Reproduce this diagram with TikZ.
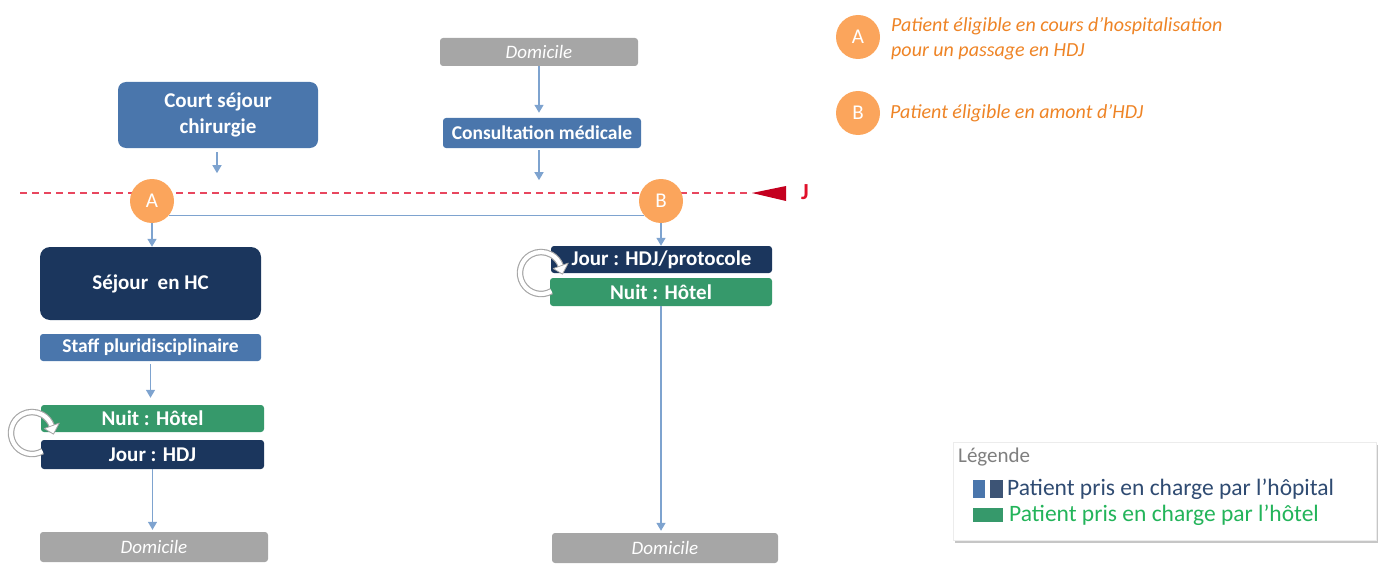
\documentclass[tikz,border=0pt]{standalone}
\usepackage{fontspec}
\setmainfont{Carlito}
\usetikzlibrary{arrows.meta,shadows,calc}

\definecolor{hospblue}{HTML}{4A76AC}
\definecolor{hospnavy}{HTML}{1B365D}
\definecolor{hotelgreen}{HTML}{36996B}
\definecolor{homegray}{HTML}{A6A6A6}
\definecolor{flowblue}{HTML}{7EA3CF}
\definecolor{markorange}{HTML}{FBA55C}
\definecolor{noteorange}{HTML}{EE8426}
\definecolor{dayred}{HTML}{E8465E}
\definecolor{tipred}{HTML}{C4001F}
\definecolor{jred}{HTML}{E0102A}
\definecolor{legnavy}{HTML}{2F4B72}
\definecolor{leggreen}{HTML}{23B45A}
\definecolor{leggray}{HTML}{7F7F7F}

\newcommand{\fsz}[1]{\fontsize{#1}{#1}\selectfont}

\begin{document}
\begin{tikzpicture}[x=1pt,y=-1pt,
  box/.style={rectangle, text=white, inner sep=0pt, align=center,
              font=\bfseries\fsz{21}},
  hosp/.style={box, fill=hospblue},
  navy/.style={box, fill=hospnavy},
  hotel/.style={box, fill=hotelgreen},
  home/.style={box, fill=homegray, font=\itshape\fsz{19}, rounded corners=3pt},
  marker/.style={circle, fill=markorange, text=white, minimum size=44pt,
                 inner sep=0pt, font=\fsz{21}},
  flow/.style={draw=flowblue, line width=1.4pt,
               -{Triangle[width=9pt,length=8pt]}},
  link/.style={draw=flowblue, line width=1.4pt},
  note/.style={anchor=west, text=noteorange, font=\itshape\fsz{20},
               align=left, inner sep=0pt},
  loopicon/.pic={
    \begin{scope}[yscale=-1]
      \draw[gray!70, line width=6.5pt] (-60:21) arc(-60:-340:21);
      \draw[white, line width=4.2pt] (-60:21) arc(-60:-340:21);
      \filldraw[fill=white, draw=gray!70, line width=0.8pt, line join=round]
        (20:13) -- (20:29) -- (-3:21.5) -- cycle;
    \end{scope}
  }
]
\useasboundingbox (0,0) rectangle (1380,567);

% ---- day separator (J)
\draw[dayred, line width=1.4pt, dash pattern=on 7pt off 5pt] (20,193) -- (752,193);
\fill[tipred] (752,193) -- (786,186) -- (786,201) -- cycle;
\node[text=jred, font=\bfseries\fsz{23}] (jday) at (805,192) {J};

% ---- left branch
\node[hosp, rounded corners=8pt, minimum width=200pt, minimum height=66pt]
  (court) at (218,115) {Court séjour\\[5pt]chirurgie};
\node[marker] (A) at (152,201) {A};
\node[navy, rounded corners=10pt, minimum width=221pt, minimum height=73pt]
  (hc) at (150.5,283.5) {Séjour\ \ en HC};
\node[hosp, rounded corners=3pt, minimum width=221pt, minimum height=27pt,
      font=\bfseries\fsz{19.5}] (staff) at (150.5,347.5) {Staff pluridisciplinaire};
\node[hotel, rounded corners=3pt, minimum width=223pt, minimum height=27pt]
  (nuitL) at (152.5,418.5) {Nuit : Hôtel};
\node[navy, rounded corners=3pt, minimum width=223pt, minimum height=29pt]
  (jourL) at (152.5,454.5) {Jour : HDJ};
\node[home, minimum width=228pt, minimum height=30pt] (domL) at (154,547) {Domicile};

% ---- right branch
\node[home, minimum width=198pt, minimum height=28pt] (domT) at (539,52) {Domicile};
\node[hosp, rounded corners=3pt, minimum width=198pt, minimum height=30pt,
      font=\bfseries\fsz{19.5}] (consult) at (542,133) {Consultation médicale};
\node[marker] (B) at (661,201) {B};
\node[navy, rounded corners=3pt, minimum width=221pt, minimum height=27pt]
  (jourR) at (661.5,259.5) {Jour : HDJ/protocole};
\node[hotel, rounded corners=3pt, minimum width=222pt, minimum height=28pt]
  (nuitR) at (661,292) {Nuit : Hôtel};
\node[home, minimum width=226pt, minimum height=30pt] (domR) at (665,548) {Domicile};

% ---- connectors
\coordinate (courtOut) at ($(court.south)+(-1,4)$);
\coordinate (courtEnd) at ($(court.south)+(-1,25)$);
\draw[flow] (courtOut) -- (courtEnd);
\draw[flow] (A) -- (hc.north -| A);
\draw[link] (A.-40) -- (B.-140);
\coordinate (staffOut) at ($(staff.south)+(0,3)$);
\draw[flow, shorten >=7pt] (staffOut) -- (staffOut |- nuitL.north);
\draw[flow, shorten >=2pt] (jourL.south) -- (domL.north -| jourL.south);

\draw[flow, shorten >=5pt] (domT) -- (domT |- consult.north);
\coordinate (consultOut) at ($(consult.south)+(-3,2)$);
\coordinate (consultEnd) at ($(consult.south)+(-3,32)$);
\draw[flow] (consultOut) -- (consultEnd);
\draw[flow] (B) -- (B |- jourR.north);
\draw[flow, shorten >=2pt] (nuitR.south) -- (nuitR.south |- domR.north);

% ---- night/day cycle icons
\pic at (32,433) {loopicon};
\pic at (541,273) {loopicon};

% ---- marker notes
\node[marker] (keyA) at (858,37) {A};
\node[note] (noteA) at (891,39) {Patient éligible en cours d’hospitalisation\\[5pt]pour un passage en HDJ};
\node[marker] (keyB) at (858,113) {B};
\node[note] (noteB) at (890,113) {Patient éligible en amont d’HDJ};

% ---- colour key
\node[rectangle, draw=gray!15, fill=white, minimum width=423pt, minimum height=98pt,
      drop shadow={shadow xshift=2pt, shadow yshift=-3pt, opacity=0.45}]
  (keybox) at (1164.5,491) {};
\node[anchor=west, text=leggray, font=\fsz{21}, inner sep=0pt] (keytitle) at (958,457) {Légende};
\fill[hospblue] (973,480) rectangle (985,498);
\fill[hospnavy!85] (990,480) rectangle (1003,498);
\node[anchor=west, text=legnavy, font=\fsz{23.5}, inner sep=0pt] (keyhosp) at (1007,489)
  {Patient pris en charge par l’hôpital};
\fill[hotelgreen] (973,508) rectangle (1003,522);
\node[anchor=west, text=leggreen, font=\fsz{23.5}, inner sep=0pt] (keyhotel) at (1009,515)
  {Patient pris en charge par l’hôtel};
\end{tikzpicture}
\end{document}
